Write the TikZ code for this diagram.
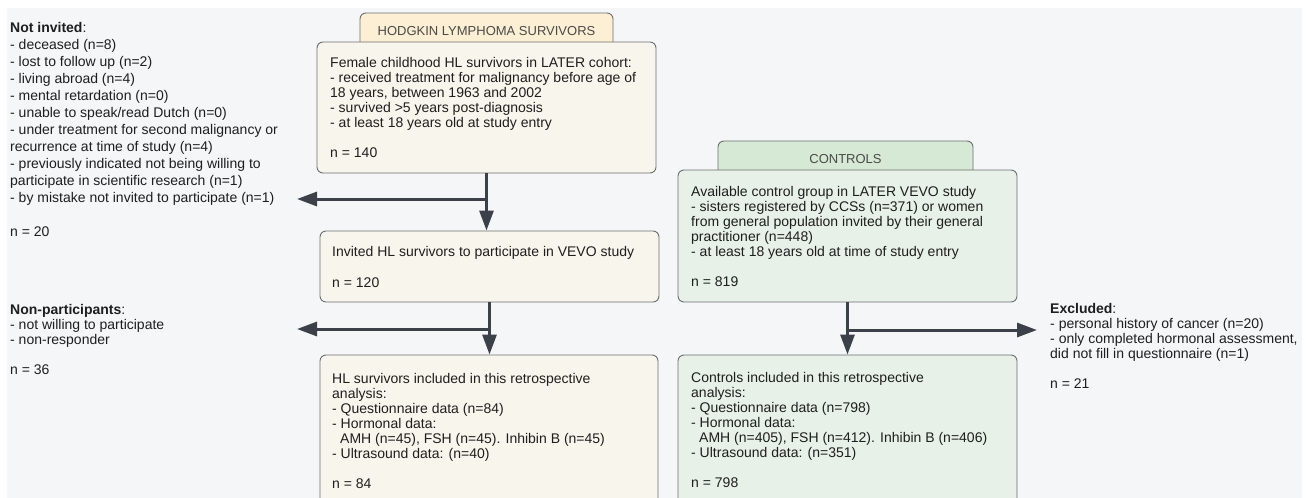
\documentclass[tikz,border=0pt]{standalone}
\usepackage{fontspec}
\setmainfont{Liberation Sans}
\usetikzlibrary{arrows.meta}
\definecolor{bgcol}{HTML}{F5F6F8}
\definecolor{hlhead}{HTML}{FCEFD3}
\definecolor{hlbox}{HTML}{F8F5EC}
\definecolor{cohead}{HTML}{D6E9D4}
\definecolor{cobox}{HTML}{E8F1E7}
\definecolor{bordercol}{HTML}{6B6E72}
\definecolor{arrowcol}{HTML}{3B4049}
\definecolor{textcol}{HTML}{1E1E1E}
\definecolor{hdrtext}{HTML}{4A4A4A}
\tikzset{
  boxshape/.style={draw=bordercol, line width=0.9pt, rounded corners=6pt, inner sep=0pt, anchor=center},
  hdrbox/.style={boxshape, font=\fontsize{13}{15}\selectfont, text=hdrtext},
  txt/.style={anchor=north west, inner sep=0pt, align=left, text=textcol, font=\fontsize{14}{15}\selectfont},
  txtwide/.style={txt, font=\fontsize{14}{17}\selectfont},
  arr/.style={draw=arrowcol, line width=3pt, -{Triangle[length=20pt,width=14pt]}},
  branchline/.style={draw=arrowcol, line width=3pt}
}
\begin{document}
\begin{tikzpicture}[x=1pt,y=-1pt]
\useasboundingbox (0,0) rectangle (1307,498);
\clip (0,0) rectangle (1307,498);
\fill[white] (0,0) rectangle (1307,498);
\fill[bgcol] (7,8) rectangle (1302,498);

% HL column
\node[hdrbox, fill=hlhead, minimum width=253pt, minimum height=37pt] (hlhdr) at (486.5,31.5) {HODGKIN LYMPHOMA SURVIVORS};
\node[boxshape, fill=hlbox, minimum width=339pt, minimum height=131pt] (hl1) at (486.5,107.5) {};
\node[boxshape, fill=hlbox, minimum width=339pt, minimum height=71pt] (hl2) at (489.5,266.5) {};
\node[boxshape, fill=hlbox, minimum width=338pt, minimum height=155pt] (hl3) at (489,432.5) {};

\node[txt] (hl1t) at (330,57) {\strut Female childhood HL survivors in LATER cohort:\\
- received treatment for malignancy before age of\\
18 years, between 1963 and 2002\\
- survived >5 years post-diagnosis\\
- at least 18 years old at study entry\\[15pt]
n = 140};
\node[txt] (hl2t) at (332,246) {\strut Invited HL survivors to participate in VEVO study\\[15.5pt]
n = 120};
\node[txt] (hl3t) at (332,373) {\strut HL survivors included in this retrospective\\
analysis:\\
- Questionnaire data (n=84)\\
- Hormonal data:\\
\hspace*{8pt}AMH (n=45), FSH (n=45). Inhibin B (n=45)\\
- Ultrasound data: (n=40)\\[15pt]
n = 84};

% Controls column
\node[hdrbox, fill=cohead, minimum width=255pt, minimum height=36pt] (cohdr) at (845.5,159) {CONTROLS};
\node[boxshape, fill=cobox, minimum width=339pt, minimum height=132pt] (co1) at (847.5,236) {};
\node[boxshape, fill=cobox, minimum width=339pt, minimum height=155pt] (co2) at (847.5,432.5) {};

\node[txt] (co1t) at (691,186) {\strut Available control group in LATER VEVO study\\
- sisters registered by CCSs (n=371) or women\\
from general population invited by their general\\
practitioner (n=448)\\
- at least 18 years old at time of study entry\\[15pt]
n = 819};
\node[txt] (co2t) at (691,372) {\strut Controls included in this retrospective\\
analysis:\\
- Questionnaire data (n=798)\\
- Hormonal data:\\
\hspace*{8pt}AMH (n=405), FSH (n=412). Inhibin B (n=406)\\
- Ultrasound data: (n=351)\\[15pt]
n = 798};

% side texts
\node[txtwide] (notinv) at (10,20.6) {\strut\textbf{Not invited}:\\
- deceased (n=8)\\
- lost to follow up (n=2)\\
- living abroad (n=4)\\
- mental retardation (n=0)\\
- unable to speak/read Dutch (n=0)\\
- under treatment for second malignancy or\\
recurrence at time of study (n=4)\\
- previously indicated not being willing to\\
participate in scientific research (n=1)\\
- by mistake not invited to participate (n=1)\\[17pt]
n = 20};
\node[txt] (nonpart) at (10,304) {\strut\textbf{Non-participants}:\\
- not willing to participate\\
- non-responder\\[15pt]
n = 36};
\node[txt] (excl) at (1050,303) {\strut\textbf{Excluded}:\\
- personal history of cancer (n=20)\\
- only completed hormonal assessment,\\
did not fill in questionnaire (n=1)\\[15pt]
n = 21};

% connectors
\coordinate (j1) at (hl1.south |- 0,199);
\coordinate (e1) at (297,199);
\coordinate (j2) at (hl2.south |- 0,329);
\coordinate (e2) at (297,329);
\coordinate (j3) at (co1.south |- 0,330);
\coordinate (e3) at (1037,330);

\draw[arr] (hl1.south) -- (hl1.south |- hl2.north);
\draw[arr] (j1) -- (e1);
\draw[arr] (hl2.south) -- (hl2.south |- hl3.north);
\draw[arr] (j2) -- (e2);
\draw[arr] (co1.south) -- (co1.south |- co2.north);
\draw[arr] (j3) -- (e3);
\end{tikzpicture}
\end{document}
